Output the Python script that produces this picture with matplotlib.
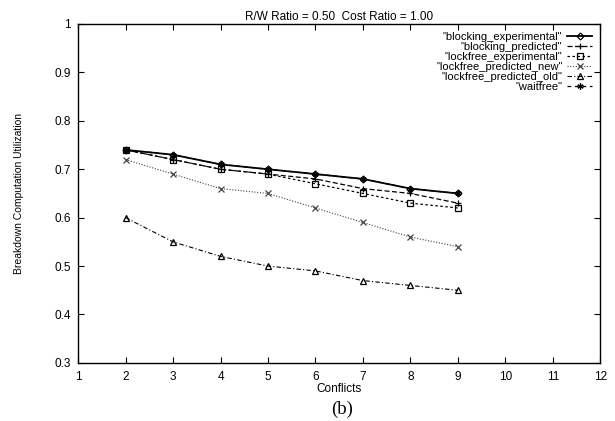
import matplotlib.pyplot as plt

conflicts = [2, 3, 4, 5, 6, 7, 8, 9]
blocking_experimental = [0.74, 0.73, 0.71, 0.70, 0.69, 0.68, 0.66, 0.65]
blocking_predicted = [0.74, 0.72, 0.70, 0.69, 0.68, 0.66, 0.65, 0.63]
lockfree_experimental = [0.74, 0.72, 0.70, 0.69, 0.67, 0.65, 0.63, 0.62]
lockfree_predicted_new = [0.72, 0.69, 0.66, 0.65, 0.62, 0.59, 0.56, 0.54]
lockfree_predicted_old = [0.60, 0.55, 0.52, 0.50, 0.49, 0.47, 0.46, 0.45]
waitfree = [0.74, 0.73, 0.71, 0.70, 0.69, 0.68, 0.66, 0.65]

plt.rcParams['font.family'] = ['Liberation Sans', 'DejaVu Sans']

fig = plt.figure(figsize=(6.15, 4.21), dpi=100)
ax = fig.add_axes([0.127, 0.138, 0.849, 0.805])

# (label, data, linestyle, marker, color, linewidth)
series = [
    ('"blocking_experimental"', blocking_experimental, '-', 'D', 'black', 1.3),
    ('"blocking_predicted"', blocking_predicted, (0, (4, 2)), '+', 'black', 0.9),
    ('"lockfree_experimental"', lockfree_experimental, (0, (2, 2)), 's', 'black', 0.9),
    ('"lockfree_predicted_new"', lockfree_predicted_new, (0, (1, 1.5)), 'x', '#444444', 0.8),
    ('"lockfree_predicted_old"', lockfree_predicted_old, (0, (4, 2, 1, 2)), '^', 'black', 0.8),
    ('"waitfree"', waitfree, (0, (3, 3)), (6, 2, 0), 'black', 0.9),
]

for label, vals, ls, mk, col, lw in series:
    ax.plot(conflicts, vals, linestyle=ls, marker=mk, color=col, lw=lw,
            markersize=4.5 if mk != 'D' else 3.5,
            markerfacecolor='none' if mk in ('s', '^', 'D') else col,
            markeredgewidth=0.9, label=label)

ax.set_xlim(1, 12)
ax.set_ylim(0.3, 1.0)
ax.set_xticks(range(1, 13))
ax.set_yticks([0.3, 0.4, 0.5, 0.6, 0.7, 0.8, 0.9, 1.0])
ax.set_yticklabels(['0.3', '0.4', '0.5', '0.6', '0.7', '0.8', '0.9', '1'])
ax.tick_params(direction='in', top=True, right=True, labelsize=8.5, length=4, width=0.8)
ax.tick_params(axis='x', pad=6)
ax.tick_params(axis='y', pad=5)
for sp in ax.spines.values():
    sp.set_linewidth(1.0)

ax.set_xlabel('Conflicts', fontsize=8.5, labelpad=0)
ax.set_ylabel('Breakdown Computation Utilization', fontsize=7.5, labelpad=22)
ax.set_title('R/W Ratio = 0.50  Cost Ratio = 1.00', fontsize=8.5, pad=3)

ax.legend(loc='upper right', frameon=False, markerfirst=False, fontsize=8,
          handlelength=2.3, handletextpad=0.4, labelspacing=0.0,
          borderaxespad=0.3)

fig.text(0.556, 0.028, '(b)', ha='center', va='center', fontsize=13.5,
         family='Liberation Serif')

fig.savefig('out.png', dpi=100)
